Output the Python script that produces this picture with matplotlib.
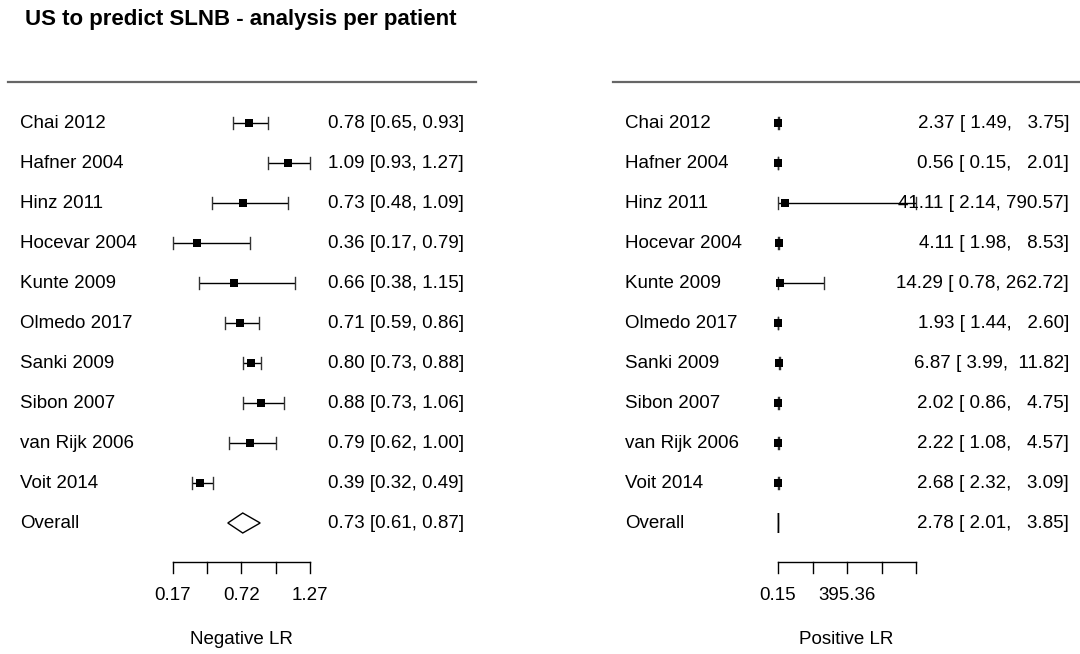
import matplotlib
matplotlib.use("Agg")
import matplotlib.pyplot as plt
from matplotlib.patches import Polygon

plt.rcParams['font.family'] = ['Liberation Sans', 'DejaVu Sans']

studies = ["Chai 2012", "Hafner 2004", "Hinz 2011", "Hocevar 2004", "Kunte 2009",
           "Olmedo 2017", "Sanki 2009", "Sibon 2007", "van Rijk 2006", "Voit 2014"]

neg_lr = [0.78, 1.09, 0.73, 0.36, 0.66, 0.71, 0.80, 0.88, 0.79, 0.39]
neg_lo = [0.65, 0.93, 0.48, 0.17, 0.38, 0.59, 0.73, 0.73, 0.62, 0.32]
neg_hi = [0.93, 1.27, 1.09, 0.79, 1.15, 0.86, 0.88, 1.06, 1.00, 0.49]
neg_overall = (0.73, 0.61, 0.87)

pos_lr = [2.37, 0.56, 41.11, 4.11, 14.29, 1.93, 6.87, 2.02, 2.22, 2.68]
pos_lo = [1.49, 0.15, 2.14, 1.98, 0.78, 1.44, 3.99, 0.86, 1.08, 2.32]
pos_hi = [3.75, 2.01, 790.57, 8.53, 262.72, 2.60, 11.82, 4.75, 4.57, 3.09]
pos_overall = (2.78, 2.01, 3.85)

neg_ticks = [0.17, 0.445, 0.72, 0.995, 1.27]
neg_ticklabels = ["0.17", "", "0.72", "", "1.27"]
pos_ticks = [0.15, 197.755, 395.36, 592.965, 790.57]
pos_ticklabels = ["0.15", "", "395.36", "", ""]

FS = 13.5
W, H = 1080, 654
fig = plt.figure(figsize=(W / 100, H / 100), dpi=100)

# rows: pixel y = 123 + 40*row  -> axes spanning full height
y_top = -123 / 40
y_bot = (H - 123) / 40


def px_to_row(py):
    return (py - 123) / 40


def make_panel(left_px, width_px, ref_px, ref_val, px_per_unit):
    ax = fig.add_axes([left_px / W, 0, width_px / W, 1])
    v0 = ref_val + (left_px - ref_px) / px_per_unit
    v1 = ref_val + (left_px + width_px - ref_px) / px_per_unit
    ax.set_xlim(v0, v1)
    ax.set_ylim(y_bot, y_top)
    ax.axis("off")
    return ax


def draw_panel(ax, left_px, width_px, est, lo, hi, overall, ticks, ticklabels,
               xlabel, fmt, label_px, value_px, line_px, axis_center_px):
    def fx(px):
        return (px - left_px) / width_px

    tr = ax.get_yaxis_transform()  # x in axes fraction, y in data
    n = len(est)
    cap = 0.15
    for i in range(n):
        ax.plot([lo[i], hi[i]], [i, i], color="black", lw=1.0, solid_capstyle="butt")
        ax.plot([lo[i], lo[i]], [i - cap, i + cap], color="#333333", lw=1.0)
        ax.plot([hi[i], hi[i]], [i - cap, i + cap], color="#333333", lw=1.0)
        ax.plot([est[i]], [i], marker="s", ms=6.4, color="black", mec="black", mew=0)
        ax.text(fx(label_px), i, studies[i], transform=tr, fontsize=FS,
                ha="left", va="center", color="black")
        ax.text(fx(value_px), i, fmt(est[i], lo[i], hi[i]), transform=tr, fontsize=FS,
                ha="right", va="center", color="black")

    m, l, h = overall
    yo = n
    dh = 0.25
    ax.add_patch(Polygon([[l, yo], [m, yo - dh], [h, yo], [m, yo + dh]],
                         closed=True, facecolor="white", edgecolor="black", lw=1.0))
    ax.text(fx(label_px), yo, "Overall", transform=tr, fontsize=FS,
            ha="left", va="center")
    ax.text(fx(value_px), yo, fmt(m, l, h), transform=tr, fontsize=FS,
            ha="right", va="center")

    # header rule
    ax.plot([fx(line_px[0]), fx(line_px[1])], [px_to_row(82)] * 2, transform=tr,
            color="#666666", lw=1.6, clip_on=False)

    # x axis
    ya = px_to_row(562)
    yt = px_to_row(573)
    ax.plot([ticks[0], ticks[-1]], [ya, ya], color="black", lw=1.0)
    for t, lab in zip(ticks, ticklabels):
        ax.plot([t, t], [ya, yt], color="black", lw=1.0)
        if lab:
            ax.text(t, px_to_row(596), lab, fontsize=FS, ha="center", va="center")
    ax.text(fx(axis_center_px), px_to_row(640), xlabel, transform=tr, fontsize=FS,
            ha="center", va="center")


def fmt_neg(e, l, h):
    return f"{e:.2f} [{l:.2f}, {h:.2f}]"


def fmt_pos(e, l, h):
    return f"{e:.2f} [{l:5.2f}, {h:6.2f}]"


ax_l = make_panel(0, 540, 173, 0.17, 137 / 1.10)
draw_panel(ax_l, 0, 540, neg_lr, neg_lo, neg_hi, neg_overall, neg_ticks, neg_ticklabels,
           "Negative LR", fmt_neg, 20, 464, (8, 476), 241)

ax_r = make_panel(540, 540, 778, 0.15, 138 / 790.42)
draw_panel(ax_r, 540, 540, pos_lr, pos_lo, pos_hi, pos_overall, pos_ticks, pos_ticklabels,
           "Positive LR", fmt_pos, 625, 1069, (613, 1080), 846)

fig.text(241 / W, 1 - 20 / H, "US to predict SLNB - analysis per patient",
         fontsize=16, fontweight="bold", ha="center", va="center")

fig.savefig("out.png", dpi=100, facecolor="white")
